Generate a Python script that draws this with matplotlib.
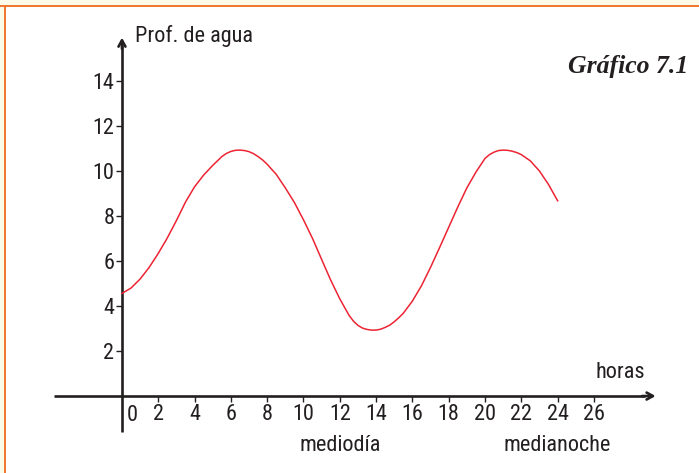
import matplotlib.pyplot as plt
from matplotlib.patches import Rectangle
from matplotlib import font_manager

# water depth (finer steps around the turning points)
horas = [0, 0.5, 1, 1.5, 2, 2.5, 3, 3.5, 4, 4.5, 5, 5.5, 5.75, 6, 6.25, 6.5,
         6.75, 7, 7.25, 7.5, 7.75, 8, 8.5, 9, 9.5, 10, 10.5, 11, 11.5, 12,
         12.5, 12.75, 13, 13.25, 13.5, 13.75, 14, 14.25, 14.5, 14.75, 15,
         15.25, 15.5, 16, 16.5, 17, 17.5, 18, 18.5, 19, 19.5, 20, 20.25, 20.5,
         20.75, 21, 21.25, 21.5, 21.75, 22, 22.5, 23, 23.5, 24]
profundidad = [4.56, 4.8, 5.2, 5.72, 6.34, 7.03, 7.8, 8.62, 9.3, 9.82, 10.25,
               10.64, 10.78, 10.87, 10.92, 10.93, 10.91, 10.86, 10.77, 10.64,
               10.49, 10.3, 9.85, 9.25, 8.6, 7.83, 7.0, 6.07, 5.15, 4.32, 3.6,
               3.33, 3.14, 3.02, 2.96, 2.93, 2.93, 2.97, 3.05, 3.15, 3.3, 3.48,
               3.68, 4.22, 4.9, 5.72, 6.6, 7.5, 8.4, 9.25, 9.95, 10.56, 10.73,
               10.84, 10.91, 10.93, 10.92, 10.88, 10.82, 10.73, 10.45, 10.0,
               9.4, 8.68]
x_ticks = [2, 4, 6, 8, 10, 12, 14, 16, 18, 20, 22, 24, 26]
y_ticks = [2, 4, 6, 8, 10, 12, 14]

# a narrow sans is closest to the book's condensed face
candidatas = ['Liberation Sans Narrow', 'DejaVu Sans Condensed', 'Roboto Condensed',
              'Open Sans Condensed', 'Roboto']
disponibles = {f.name for f in font_manager.fontManager.ttflist}
familia = [c for c in candidatas if c in disponibles] + ['DejaVu Sans']
plt.rcParams['font.family'] = familia
tam = 16 if familia[0] != 'Roboto' else 14

ink = '#231f20'
naranja = '#f07830'

fig = plt.figure(figsize=(6.99, 4.73), dpi=100)
fig.patch.set_facecolor('white')
ax = fig.add_axes([0, 0, 1, 1])
ax.patch.set_visible(False)
ax.set_xlim(-6.72, 31.79)
ax.set_ylim(-3.42, 17.6)

# axes through the origin
for s in ['top', 'right']:
    ax.spines[s].set_visible(False)
ax.spines['left'].set_position(('data', 0))
ax.spines['bottom'].set_position(('data', 0))
ax.spines['left'].set_bounds(-1.6, 15.6)
ax.spines['bottom'].set_bounds(-3.72, 28.8)
for s in ['left', 'bottom']:
    ax.spines[s].set_linewidth(1.9)
    ax.spines[s].set_color(ink)
    ax.spines[s].set_capstyle('butt')

ax.annotate('', xy=(0, 16.05), xytext=(0, 15.3),
            arrowprops=dict(arrowstyle='->,head_length=0.45,head_width=0.25',
                            lw=1.9, color=ink))
ax.annotate('', xy=(29.55, 0), xytext=(28.5, 0),
            arrowprops=dict(arrowstyle='->,head_length=0.45,head_width=0.25',
                            lw=1.9, color=ink))

ax.set_xticks(x_ticks)
ax.set_yticks(y_ticks)
ax.tick_params(axis='both', direction='out', length=4, width=1.0, color=ink,
               labelsize=tam, labelcolor=ink, pad=1.5)
ax.text(0.25, -0.4, '0', ha='left', va='top', fontsize=tam, color=ink)

ax.plot(horas, profundidad, color='#ec2434', lw=1.1, zorder=3,
        solid_joinstyle='round')

ax.text(0.7, 16.0, 'Prof. de agua', ha='left', va='center', fontsize=tam, color=ink)
ax.text(28.8, 0.6, 'horas', ha='right', va='bottom', fontsize=tam, color=ink)
ax.text(12.0, -2.2, 'mediodía', ha='center', va='center', fontsize=tam, color=ink)
ax.text(24.0, -2.2, 'medianoche', ha='center', va='center', fontsize=tam, color=ink)
fig.text(688 / 699, 1 - 66 / 473, 'Gráfico 7.1', ha='right', va='center',
         fontsize=18.5, family='Liberation Serif', weight='bold', style='italic',
         color=ink)

# page frame: cream margin with orange rule on top and left
fig.patches.append(Rectangle((0, 1 - 5 / 473), 1, 5 / 473, transform=fig.transFigure,
                             facecolor='#fcfae8', edgecolor='none'))
fig.patches.append(Rectangle((0, 0), 3.5 / 699, 1, transform=fig.transFigure,
                             facecolor='#fcfae8', edgecolor='none'))
fig.patches.append(Rectangle((0, 1 - 7.5 / 473), 1, 2.8 / 473, transform=fig.transFigure,
                             facecolor=naranja, edgecolor='none'))
fig.patches.append(Rectangle((3.5 / 699, 0), 2.8 / 699, 1 - 5 / 473, transform=fig.transFigure,
                             facecolor=naranja, edgecolor='none'))

fig.savefig('out.png', dpi=100)
